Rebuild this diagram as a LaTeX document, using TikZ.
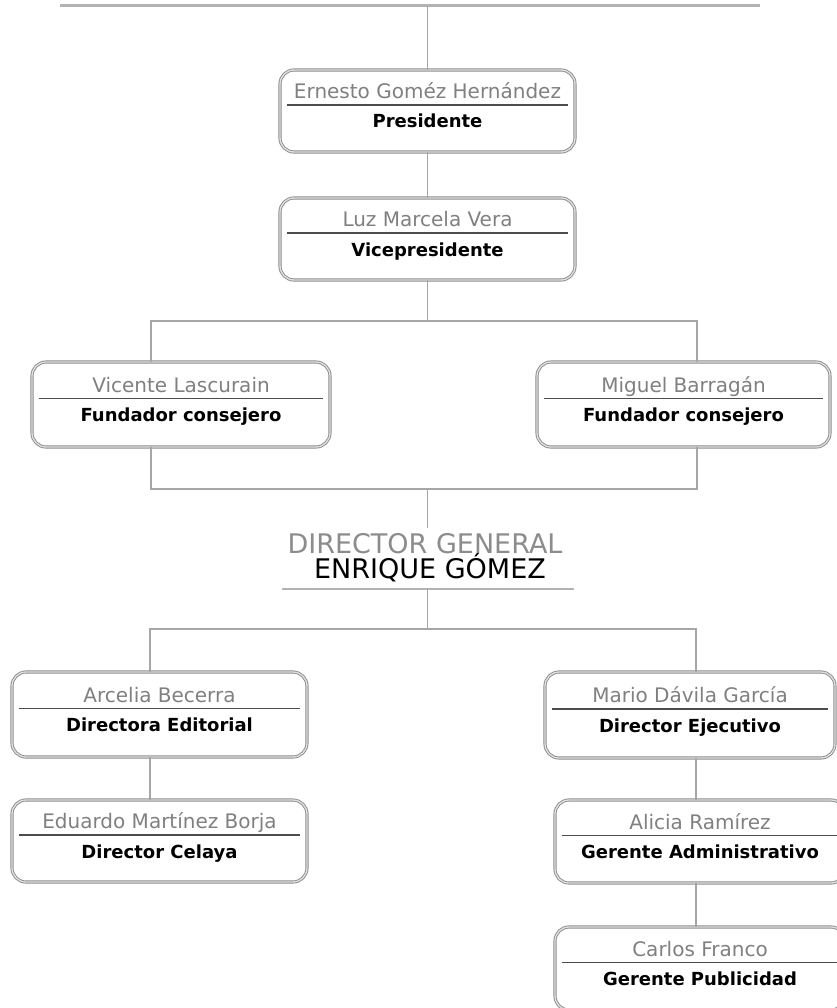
\documentclass[tikz,border=0pt]{standalone}
\usepackage{fontspec}
\setmainfont{DejaVu Sans}
\usetikzlibrary{calc}
\tikzset{
  orgbox/.style={draw=black!45, double=black!12, double distance=1.3pt, line width=0.9pt,
    rounded corners=14pt, fill=white, inner sep=0pt},
  nametext/.style={anchor=base, text=black!50, font=\fontsize{20}{22}\selectfont, inner sep=0pt},
  titletext/.style={anchor=base, text=black, font=\bfseries\fontsize{18}{22}\selectfont, inner sep=0pt},
  divider/.style={draw=black!70, line width=1.2pt},
  conn/.style={draw=black!35, line width=1.8pt},
  heavyline/.style={draw=black!30, line width=3pt},
}
\newcommand\orgunit[7]{%
  \node[orgbox, minimum width=#4pt, minimum height=#5pt] (#1) at (#2,#3) {};
  \node[nametext] (#1n) at ($(#1.center)+(0,-12.5)$) {#6};
  \draw[divider] ($(#1.west)+(7,-6)$) -- ($(#1.east)+(-7,-6)$);
  \node[titletext] (#1t) at ($(#1.center)+(0,17)$) {#7};
}
\begin{document}
\begin{tikzpicture}[x=1pt,y=-1pt]
\useasboundingbox (0,0) rectangle (836,1008);
% top line
\coordinate (tl) at (60,6);
\coordinate (tr) at (760,6);
\coordinate (tm) at (427.5,6);
\draw[heavyline] (tl) -- (tr);

\orgunit{pres}{427.5}{111}{295}{82}{Ernesto Goméz Hernández}{Presidente}
\orgunit{vice}{427.5}{239}{295}{82}{Luz Marcela Vera}{Vicepresidente}
\orgunit{vic}{181}{404.5}{298}{85}{Vicente Lascurain}{Fundador consejero}
\orgunit{mig}{683.5}{404.5}{293}{85}{Miguel Barragán}{Fundador consejero}
\orgunit{arc}{159.5}{714.5}{295}{85}{Arcelia Becerra}{Directora Editorial}
\orgunit{edu}{159.5}{841}{295}{82}{Eduardo Martínez Borja}{Director Celaya}
\orgunit{mar}{690}{715}{290}{86}{Mario Dávila García}{Director Ejecutivo}
\orgunit{ali}{700}{841.5}{290}{83}{Alicia Ramírez}{Gerente Administrativo}
\orgunit{car}{700}{968.5}{290}{83}{Carlos Franco}{Gerente Publicidad}

% director general
\node[text=black!45, font=\fontsize{27}{30}\selectfont, inner sep=0pt, anchor=base] (dgt) at (425,553) {DIRECTOR GENERAL};
\node[text=black, font=\fontsize{27}{30}\selectfont, inner sep=0pt, anchor=base] (dgn) at (430,578) {ENRIQUE GÓMEZ};
\coordinate (ul) at (282,589);
\coordinate (ur) at (574,589);
\coordinate (um) at (427.5,589);
\draw[heavyline, line width=2.5pt] (ul) -- (ur);

% connectors
\draw[conn] (tm) -- (pres.north);
\draw[conn] (pres.south) -- (vice.north);
\coordinate (b1l) at (151,321);
\coordinate (b1r) at (697,321);
\coordinate (b1m) at (427.5,321);
\draw[conn] (vice.south) -- (b1m);
\draw[conn] (b1l |- vic.north) -- (b1l) -- (b1r) -- (b1r |- mig.north);
\coordinate (b2l) at (151,489);
\coordinate (b2r) at (697,489);
\coordinate (b2m) at (427.5,489);
\coordinate (dgtop) at (427.5,528);
\draw[conn] (b2l |- vic.south) -- (b2l) -- (b2r) -- (b2r |- mig.south);
\draw[conn] (b2m) -- (dgtop);
\coordinate (b3l) at (150,629);
\coordinate (b3r) at (696,629);
\coordinate (b3m) at (427.5,629);
\draw[conn] (um) -- (b3m);
\draw[conn] (b3l |- arc.north) -- (b3l) -- (b3r) -- (b3r |- mar.north);
\draw[conn] (b3l |- arc.south) -- (b3l |- edu.north);
\draw[conn] (b3r |- mar.south) -- (b3r |- ali.north);
\draw[conn] (b3r |- ali.south) -- (b3r |- car.north);
\end{tikzpicture}
\end{document}
